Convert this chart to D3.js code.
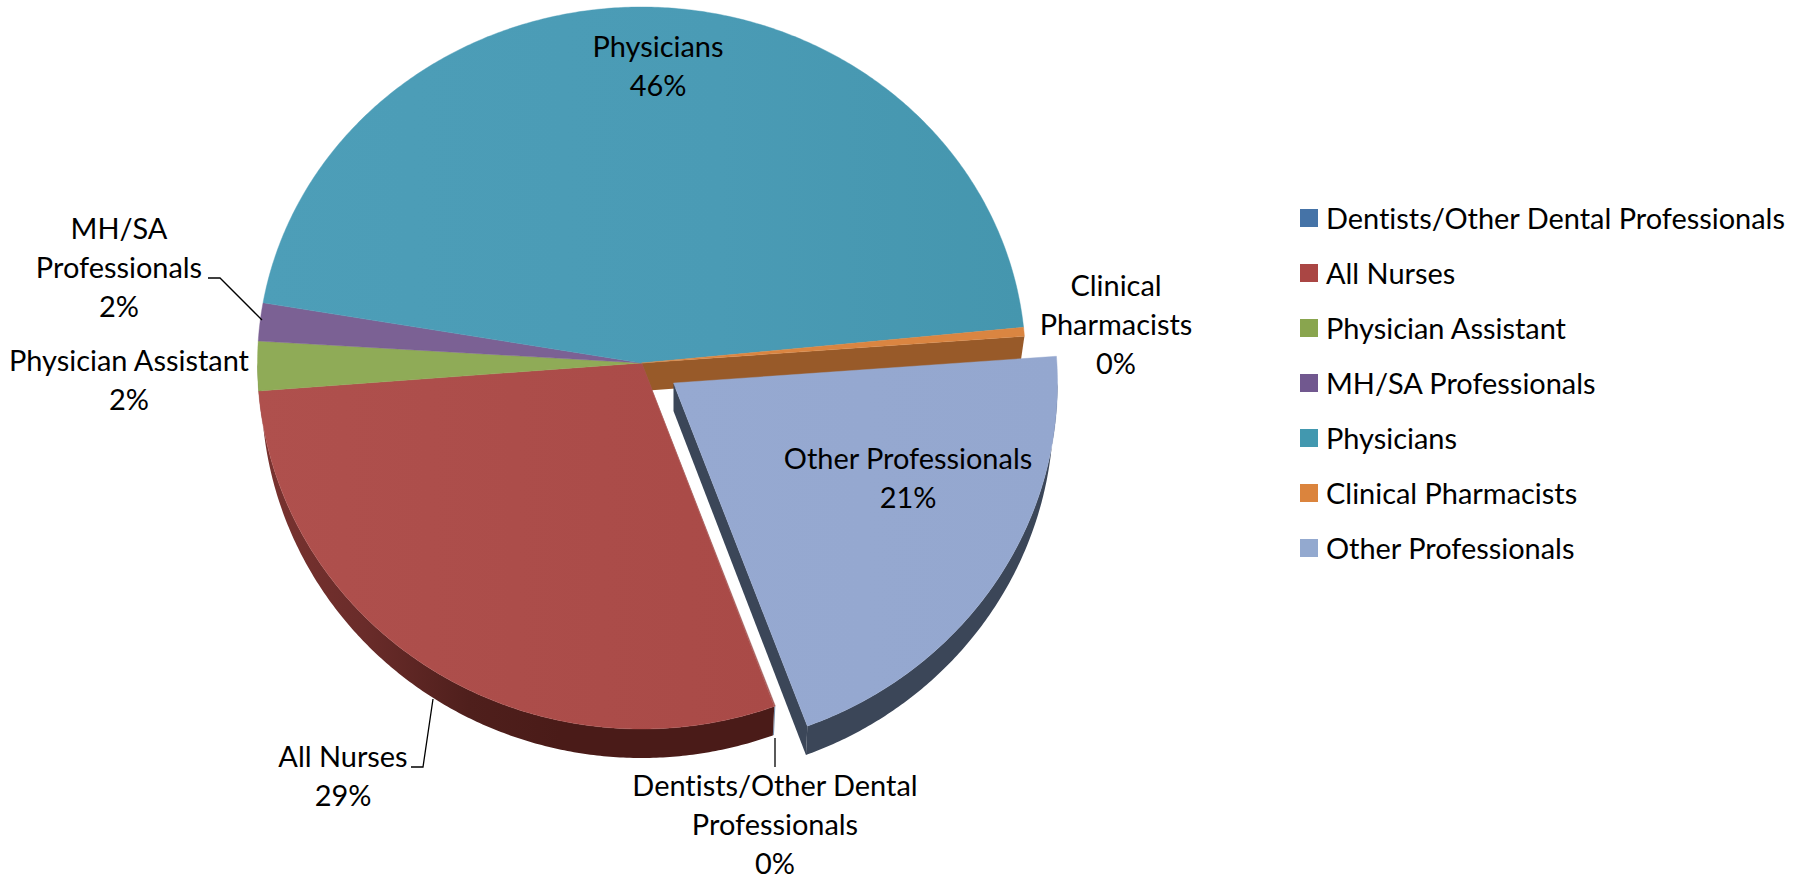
<!DOCTYPE html>
<html><head><meta charset="utf-8">
<script src="https://cdn.jsdelivr.net/npm/d3@7/dist/d3.min.js"></script>
<style>html,body{margin:0;padding:0;background:#fff;overflow:hidden}svg{display:block}text{font-family:Lato,"Open Sans",sans-serif;fill:#000;font-variant-ligatures:none}</style>
</head><body><svg id="c" width="1811" height="880"></svg>
<script>
// ---- data ----
const categories = ["Dentists/Other Dental Professionals","All Nurses","Physician Assistant","MH/SA Professionals","Physicians","Clinical Pharmacists","Other Professionals"];
const values = [0.05,29.4,2.2,1.72,45.7,0.4,20.53];
const percentLabels = ["0%","29%","2%","2%","46%","0%","21%"];
const explodedCategory = "Other Professionals";
// ---- style ----
const topColors = ["#A5605E","#AC4D4A","#8FAB57","#7B6194","#4A9BB5","#DA8541","#95A8D0"];
const wallColors = ["#7C93AE","#4A1B18","#5c6c34","#4a3a5a","#2c5d6e","#985A29","#3B4658"];
const legendColors = ["#4573A7","#AA4644","#89A54E","#71588F","#4298AF","#DB843D","#93A9CF"];
const labelLines = [["Dentists/Other Dental","Professionals"],["All Nurses"],["Physician Assistant"],["MH/SA","Professionals"],["Physicians"],["Clinical","Pharmacists"],["Other Professionals"]];
const labelPos = [[775,796],[343,767],[129,371],[119,239],[658,57],[1116,296],[908,469]];
const leaders = [[[775,738],[775,767]],[[411,767],[423,767],[433,699]],[],[[208,278],[220,278],[262,320]],[],[],[]];
const FONT=28.5, LH=39, XS=1.015;
const geo={cx:641.5,cy:363,rx:384,ryBack:356,ryFront:366,depth:28,rxBottom:380,ryBottom:367,ex:32,ey:20,start:159.6};
const legendBox={x:1300,y:209,size:18,step:55,textX:1326};

const svg=d3.select("#c");
const defs=svg.append("defs");
const rad=d=>d*Math.PI/180;
const pie=d3.pie().sort(null).value(d=>d).startAngle(rad(geo.start)).endAngle(rad(geo.start+360));
const arcs=pie(values);
const line=d3.line();
function topPt(a,o){const c=Math.cos(a);return [geo.cx+o[0]+geo.rx*Math.sin(a),geo.cy+o[1]-c*(c>0?geo.ryBack:geo.ryFront)];}
function botPt(a,o){const c=Math.cos(a);return [geo.cx+o[0]+geo.rxBottom*Math.sin(a),geo.cy+o[1]+geo.depth-c*geo.ryBottom];}
const samp=(a,b)=>{const n=Math.max(2,Math.ceil(Math.abs(b-a)/rad(0.5)));return d3.range(n+1).map(i=>a+(b-a)*i/n);};
const offs=arcs.map((d,i)=>categories[i]===explodedCategory?[geo.ex,geo.ey]:[0,0]);
function grad(id,x1,x2,stops){const g=defs.append("linearGradient").attr("id",id).attr("gradientUnits","userSpaceOnUse").attr("x1",x1).attr("x2",x2).attr("y1",0).attr("y2",0);
 stops.forEach(s=>g.append("stop").attr("offset",s[0]).attr("stop-color",s[1]));return `url(#${id})`;}
const topFill=topColors.map(c=>c);
topFill[4]=grad("gP",257,1025,[[0,"#4D9EB8"],[0.6,"#4A9BB5"],[1,"#4596AE"]]);
topFill[1]=grad("gR",257,775,[[0,"#AF504D"],[1,"#A94A47"]]);
topFill[6]=grad("gO",673,1057,[[0,"#96A9D1"],[1,"#94A7CF"]]);
const wallFill=wallColors.slice();
wallFill[1]=grad("gW",257,560,[[0,"#7A3330"],[0.35,"#6A2C2A"],[0.7,"#4F1F1C"],[1,"#4A1B18"]]);

const front=(d)=>{ // part of a slice's outer rim that faces the viewer (pi/2..3pi/2, +2pi)
 const out=[];[[rad(90),rad(270)],[rad(450),rad(630)]].forEach(r=>{const a=Math.max(d.startAngle,r[0]),b=Math.min(d.endAngle,r[1]);if(b>a)out.push([a,b]);});return out;};
function drawWall(i,g){front(arcs[i]).forEach(([a,b])=>{const s=samp(a,b);
 g.append("path").attr("d",line([...s.map(t=>topPt(t,offs[i])),...s.slice().reverse().map(t=>botPt(t,offs[i]))])+"Z").attr("fill",wallFill[i]);});}
function drawTop(i,g){const s=samp(arcs[i].startAngle,arcs[i].endAngle).map(t=>topPt(t,offs[i]));const c=[geo.cx+offs[i][0],geo.cy+offs[i][1]];
 g.append("path").attr("d",line([c,...s])+"Z").attr("fill",topFill[i]).attr("stroke",topFill[i]).attr("stroke-width",0.4);}
function cut(ang,o,color,g){const c=[geo.cx+o[0],geo.cy+o[1]];
 g.append("path").attr("d",line([c,topPt(ang,o),botPt(ang,o),[c[0],c[1]+geo.depth]])+"Z").attr("fill",color);}

const g=svg.append("g");
const xi=categories.indexOf(explodedCategory);
// remaining pie: cut face exposed by the exploded slice
cut(arcs[xi].startAngle,[0,0],wallColors[5],g);
arcs.forEach((d,i)=>{if(i!==xi)drawWall(i,g);});
arcs.forEach((d,i)=>{if(i!==xi)drawTop(i,g);});
// exploded slice
cut(arcs[xi].endAngle,offs[xi],wallColors[xi],g);
drawWall(xi,g);
drawTop(xi,g);

// leaders
svg.append("g").selectAll("path").data(leaders.filter(l=>l.length)).join("path").attr("d",d=>line(d)).attr("fill","none").attr("stroke","#000").attr("stroke-width",1.3);

// text helper: horizontal scale fits the reference face's widths
function label(parent,x,y,str,anchor){return parent.append("text").attr("transform",`translate(${x},${y}) scale(${XS},1)`).attr("text-anchor",anchor).attr("font-size",FONT).text(str);}
const lab=svg.append("g");
categories.forEach((c,i)=>{const p=labelPos[i];const lines=[...labelLines[i],percentLabels[i]];
 lines.forEach((t,k)=>label(lab,p[0],p[1]+k*LH,t,"middle"));});

// legend
const lg=svg.append("g");
categories.forEach((c,i)=>{const y=legendBox.y+i*legendBox.step;
 lg.append("rect").attr("x",legendBox.x).attr("y",y).attr("width",legendBox.size).attr("height",legendBox.size).attr("fill",legendColors[i]);
 label(lg,legendBox.textX,y+20,c,"start");});
</script></body></html>
